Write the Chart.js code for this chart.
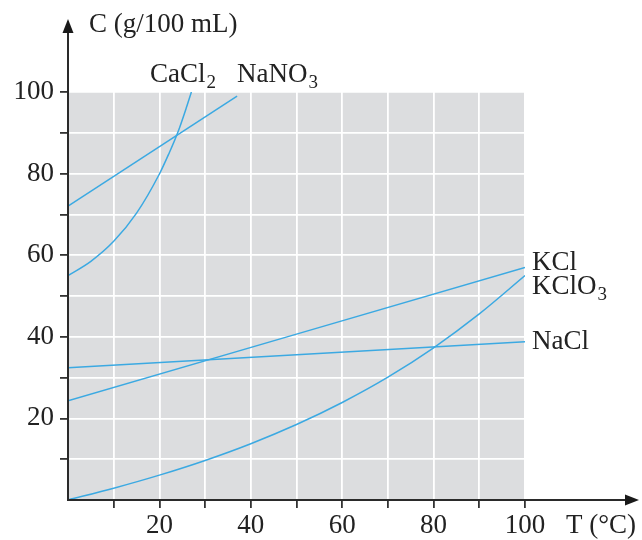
<!DOCTYPE html>
<html><head><meta charset="utf-8">
<script src="https://cdn.jsdelivr.net/npm/chart.js@4.4.0/dist/chart.umd.min.js"></script>
<style>html,body{margin:0;padding:0;background:#fff}#c{display:block}</style>
</head><body>
<canvas id="c" width="642" height="540"></canvas>
<script>
// Data (T in °C, C in g/100 mL)
const tCaCl2   = [0, 5, 10, 15, 20, 22, 24, 26, 27];
const cCaCl2   = [55, 58.5, 63.4, 70.3, 79.9, 84.7, 90, 96.5, 100];
const tNaNO3   = [0, 37];
const cNaNO3   = [72, 99];
const tKCl     = [0, 100];
const cKCl     = [24.3, 57];
const tKClO3   = [0, 10, 20, 30, 40, 50, 60, 70, 80, 90, 100];
const cKClO3   = [0, 2.9, 6.1, 9.7, 13.8, 18.5, 23.9, 30.1, 37.3, 45.6, 55];
const tNaCl    = [0, 100];
const cNaCl    = [32.4, 38.8];
const xTickLabels = [20, 40, 60, 80, 100];
const yTickLabels = [20, 40, 60, 80, 100];
const seriesNames = ['CaCl2', 'NaNO3', 'KCl', 'KClO3', 'NaCl'];

const FONT = '"Liberation Serif", "DejaVu Serif", serif';
const FS = 27;
const BLUE = '#3ba9e2';
function pts(xs, ys){ return xs.map((x,i)=>({x:x, y:ys[i]})); }
const allT = [tCaCl2, tNaNO3, tKCl, tKClO3, tNaCl];
const allC = [cCaCl2, cNaNO3, cKCl, cKClO3, cNaCl];

const datasets = seriesNames.map((n,i)=>({
  label: n, data: pts(allT[i], allC[i]), showLine: true, borderColor: BLUE,
  borderWidth: 1.5, pointRadius: 0, tension: 0.4, cubicInterpolationMode: 'monotone', fill: false
}));

// label placement (style)
const labelStyle = {
  CaCl2: {dx: -9, dy: -17, align: 'center'},
  NaNO3: {dx: 0, dy: -21, align: 'left'},
  KCl:   {dx: 7, dy: -5, align: 'left'},
  KClO3: {dx: 7, dy: 11, align: 'left'},
  NaCl:  {dx: 7, dy: 0, align: 'left'}
};

function drawChem(ctx, name, x, y, align){
  const m = name.match(/^(.*?)(\d*)$/);
  const main = m[1], sub = m[2];
  ctx.font = FS + 'px ' + FONT;
  const wMain = ctx.measureText(main).width;
  ctx.font = '19px ' + FONT;
  const wSub = sub ? ctx.measureText(sub).width : 0;
  const total = wMain + wSub;
  let x0 = x;
  if (align === 'center') x0 = x - total/2;
  ctx.textAlign = 'left';
  ctx.textBaseline = 'middle';
  ctx.fillStyle = '#222';
  ctx.font = FS + 'px ' + FONT;
  ctx.fillText(main, x0, y);
  if (sub){ ctx.font = '19px ' + FONT; ctx.fillText(sub, x0 + wMain + 1, y + 8); }
}

const deco = {
  id: 'deco',
  beforeDraw(chart){
    const {ctx, chartArea: a} = chart;
    ctx.save();
    ctx.fillStyle = '#dcdddf';
    ctx.fillRect(a.left, a.top, a.right - a.left, a.bottom - a.top);
    ctx.restore();
  },
  afterDraw(chart){
    const {ctx} = chart;
    const xs = chart.scales.x, ys = chart.scales.y;
    ctx.save();
    ctx.strokeStyle = '#2a2a2a'; ctx.fillStyle = '#1a1a1a'; ctx.lineWidth = 2;
    const x0 = xs.getPixelForValue(0), y0 = ys.getPixelForValue(0);
    // y axis with arrow
    ctx.beginPath(); ctx.moveTo(x0, y0 + 1); ctx.lineTo(x0, 28); ctx.stroke();
    ctx.beginPath(); ctx.moveTo(x0, 19); ctx.lineTo(x0-5.5, 33); ctx.lineTo(x0+5.5, 33); ctx.closePath(); ctx.fill();
    // x axis with arrow
    ctx.beginPath(); ctx.moveTo(x0 - 1, y0); ctx.lineTo(628, y0); ctx.stroke();
    ctx.beginPath(); ctx.moveTo(639, y0); ctx.lineTo(625, y0-5.5); ctx.lineTo(625, y0+5.5); ctx.closePath(); ctx.fill();
    // axis titles
    ctx.fillStyle = '#222';
    ctx.font = FS + 'px ' + FONT; ctx.textBaseline = 'middle'; ctx.textAlign = 'left';
    ctx.fillText('C (g/100 mL)', 89, 25);
    ctx.fillText('T (°C)', 566, 526);
    // series labels at line ends
    chart.data.datasets.forEach((ds)=>{
      const last = ds.data[ds.data.length-1];
      const st = labelStyle[ds.label];
      drawChem(ctx, ds.label, xs.getPixelForValue(last.x) + st.dx, ys.getPixelForValue(last.y) + st.dy, st.align);
    });
    ctx.restore();
  }
};

const tickCol = c => (c.tick && c.tick.value === 0) ? 'rgba(0,0,0,0)' : '#333';

new Chart(document.getElementById('c'), {
  type: 'scatter',
  data: { datasets },
  plugins: [deco],
  options: {
    responsive: false, animation: false,
    layout: { padding: { top: 92, right: 117, left: 0, bottom: 0 } },
    plugins: { legend: { display: false }, tooltip: { enabled: false } },
    scales: {
      x: {
        type: 'linear', min: 0, max: 100,
        afterFit(s){ s.height = 40; },
        border: { display: false },
        grid: { color: '#ffffff', lineWidth: 1.8, tickColor: tickCol, tickLength: 8, drawTicks: true },
        ticks: { stepSize: 10, padding: 2, color: '#222', font: { family: FONT, size: FS },
          autoSkip: false, maxRotation: 0, minRotation: 0,
          callback: v => xTickLabels.includes(v) ? String(v) : '' }
      },
      y: {
        type: 'linear', min: 0, max: 100,
        afterFit(s){ s.width = 68; },
        border: { display: false },
        grid: { color: '#ffffff', lineWidth: 1.8, tickColor: tickCol, tickLength: 8, drawTicks: true },
        ticks: { stepSize: 10, padding: 6, color: '#222', font: { family: FONT, size: FS },
          autoSkip: false,
          callback: v => yTickLabels.includes(v) ? String(v) : '' }
      }
    }
  }
});
</script>
</body></html>
